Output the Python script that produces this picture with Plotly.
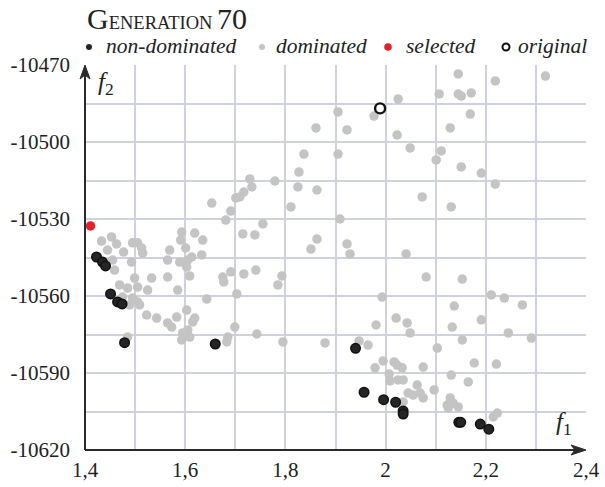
import plotly.graph_objects as go

# ---------------- data ----------------
dom_f1 = [2.145, 2.219, 2.319, 2.107, 2.145, 2.151, 2.171, 2.025, 1.905, 1.977, 2.169, 1.861, 1.923, 2.129,
          2.023, 2.049, 1.837, 1.905, 2.111, 2.101, 2.151, 1.827, 2.191, 2.219, 1.729, 1.779, 1.733, 1.825,
          1.863, 1.717, 1.709, 2.073, 1.811, 2.131, 1.909, 1.755, 1.715, 1.739, 1.863, 1.851, 1.923, 1.929,
          2.041, 2.081, 2.153,
          1.653, 1.701, 1.691, 1.681, 1.593, 1.619, 1.635, 1.591, 1.433, 1.453, 1.463, 1.445, 1.477, 1.495,
          1.505, 1.513, 1.515, 1.493, 1.455, 1.459, 1.601, 1.569, 1.565, 1.589, 1.605, 1.613, 1.633, 1.603,
          1.609, 1.565, 1.499, 1.533, 1.525, 1.505, 1.469, 1.485, 1.475, 1.495, 1.505, 1.509, 1.489, 1.585,
          1.675, 1.691, 1.717, 1.741, 1.793, 1.677, 1.785, 1.643, 1.703, 1.603, 1.619, 1.615, 1.583, 1.565,
          1.573, 1.543, 1.523, 1.605, 1.595, 1.593, 1.609, 1.699, 1.685, 1.683, 1.485, 1.743, 1.795,
          1.993, 2.211, 2.237, 2.273, 2.137, 2.021, 2.043, 2.049, 1.981, 2.191, 2.133, 2.245, 2.291, 2.153,
          1.879, 1.947, 1.965, 2.103, 1.995, 2.017, 2.023, 2.033, 1.979, 2.075, 2.177, 2.221, 2.131, 2.007,
          2.009, 2.025, 2.035, 2.063, 2.165, 2.097, 2.045, 2.055, 2.069, 2.075, 2.129, 2.123, 2.135, 2.145,
          2.125, 2.035, 2.223, 2.215]
dom_f2 = [-10473.5, -10476.2, -10474.3, -10481.3, -10481.3, -10482.1, -10480.9, -10483.2, -10488.3, -10489.9,
          -10489.1, -10494.5, -10495.3, -10494.5, -10497.3, -10502.3, -10504.7, -10504.7, -10503.5, -10507.0,
          -10509.7, -10511.7, -10512.1, -10516.4, -10514.4, -10515.2, -10517.5, -10517.5, -10518.7, -10519.5,
          -10521.4, -10521.4, -10525.3, -10525.3, -10530.0, -10531.9, -10535.8, -10536.2, -10537.8, -10541.7,
          -10539.7, -10543.6, -10543.6, -10552.6, -10553.4,
          -10523.8, -10521.8, -10526.9, -10530.4, -10535.1, -10535.5, -10538.2, -10538.2, -10538.6, -10537.0,
          -10539.7, -10542.1, -10542.9, -10539.3, -10539.3, -10541.3, -10543.2, -10546.8, -10546.0, -10549.9,
          -10541.3, -10542.1, -10546.0, -10546.8, -10546.0, -10544.8, -10544.0, -10548.7, -10552.2, -10552.6,
          -10553.0, -10553.0, -10557.7, -10556.5, -10555.7, -10556.9, -10560.4, -10560.8, -10562.3, -10563.5,
          -10563.5, -10557.7, -10552.6, -10550.6, -10551.4, -10549.9, -10552.2, -10554.5, -10555.7, -10561.2,
          -10559.2, -10565.5, -10568.6, -10570.1, -10568.2, -10570.5, -10572.1, -10568.6, -10567.4, -10573.2,
          -10574.4, -10577.1, -10576.0, -10572.1, -10576.0, -10577.9, -10576.0, -10574.8, -10577.9,
          -10560.4, -10559.6, -10560.8, -10563.5, -10563.9, -10568.6, -10570.5, -10574.4, -10571.3, -10569.3,
          -10572.1, -10574.4, -10576.4, -10577.1, -10578.3, -10577.5, -10579.1, -10580.3, -10585.3, -10585.7,
          -10586.9, -10588.0, -10588.0, -10587.7, -10586.1, -10586.5, -10590.8, -10590.4, -10593.1, -10592.7,
          -10592.7, -10594.7, -10593.5, -10596.6, -10597.8, -10598.6, -10597.8, -10599.7, -10599.7, -10602.5,
          -10601.7, -10603.2, -10603.6, -10601.3, -10605.6, -10607.1]

nondom_f1 = [1.423, 1.435, 1.441, 1.451, 1.465, 1.474, 1.479, 1.660, 1.940, 1.957, 1.996, 2.020, 2.035,
             2.035, 2.146, 2.150, 2.189, 2.206]
nondom_f2 = [-10544.8, -10546.8, -10548.3, -10559.2, -10562.3, -10563.1, -10578.2, -10578.7, -10580.4,
             -10597.5, -10600.4, -10601.4, -10604.8, -10606.0, -10609.2, -10609.2, -10609.9, -10611.9]

selected_f1 = [1.411]
selected_f2 = [-10532.7]

original_f1 = [1.989]
original_f2 = [-10486.9]

x_range = [1.4, 2.4]
y_range = [-10620, -10470]
x_tickvals = [1.4, 1.6, 1.8, 2.0, 2.2, 2.4]
x_ticktext = ["1,4", "1,6", "1,8", "2", "2,2", "2,4"]
x_grid_step = 0.1
y_tickvals = [-10620, -10590, -10560, -10530, -10500, -10470]
y_ticktext = ["-10620", "-10590", "-10560", "-10530", "-10500", "-10470"]
y_grid_step = 15

title_text = "<span style='font-size:30px'>G</span>ENERATION <span style='font-size:30px'>70</span>"
legend_names = ["non-dominated", "dominated", "selected", "original"]

# ---------------- styling ----------------
SERIF = "Liberation Serif"
GRID = "#cfd1dc"
AX = "#2b2b2b"
C_DOM = "#c4c4c4"
C_ND = "#252525"
C_SEL = "#e3232c"

L, R, T, B = 85, 19, 65, 37
W, H = 605, 487
PW, PH = W - L - R, H - T - B


def px2paper_x(px):
    return (px - L) / PW


def px2paper_y(py):
    return (H - B - py) / PH


fig = go.Figure()
fig.add_trace(go.Scatter(x=dom_f1, y=dom_f2, mode="markers", name=legend_names[1],
                         marker=dict(size=9.5, color=C_DOM, line=dict(width=0)), cliponaxis=False))
fig.add_trace(go.Scatter(x=nondom_f1, y=nondom_f2, mode="markers", name=legend_names[0],
                         marker=dict(size=9.5, color=C_ND, line=dict(width=1.5, color="#111111")),
                         cliponaxis=False))
fig.add_trace(go.Scatter(x=selected_f1, y=selected_f2, mode="markers", name=legend_names[2],
                         marker=dict(size=9.5, color=C_SEL, line=dict(width=0)), cliponaxis=False))
fig.add_trace(go.Scatter(x=original_f1, y=original_f2, mode="markers", name=legend_names[3],
                         marker=dict(size=10, color="white", line=dict(width=2.4, color="#111111")),
                         cliponaxis=False))

annotations = []
# axis names
annotations.append(dict(x=px2paper_x(96), y=px2paper_y(83), xref="paper", yref="paper", xanchor="left",
                        yanchor="middle", showarrow=False, text="<i>f</i><sub>2</sub>",
                        font=dict(family=SERIF, size=25, color="#222")))
annotations.append(dict(x=px2paper_x(554), y=px2paper_y(423), xref="paper", yref="paper", xanchor="left",
                        yanchor="middle", showarrow=False, text="<i>f</i><sub>1</sub>",
                        font=dict(family=SERIF, size=25, color="#222")))
# title
annotations.append(dict(x=px2paper_x(85), y=px2paper_y(19), xref="paper", yref="paper", xanchor="left",
                        yanchor="middle", showarrow=False, text=title_text,
                        font=dict(family=SERIF, size=18.5, color="#222")))
# legend row
text_x = [104, 274, 404, 516]
for name, tx in zip(legend_names, text_x):
    annotations.append(dict(x=px2paper_x(tx), y=px2paper_y(46), xref="paper", yref="paper",
                            xanchor="left", yanchor="middle", showarrow=False, text="<i>" + name + "</i>",
                            font=dict(family=SERIF, size=21.5, color="#222")))

shapes = []
# axis lines with arrowheads (in paper coords; heads sized in pixels)
shapes.append(dict(type="line", xref="paper", yref="paper", x0=0, x1=0, y0=0, y1=0.985,
                   line=dict(color=AX, width=2)))
shapes.append(dict(type="line", xref="paper", yref="paper", x0=0, x1=0.985, y0=0, y1=0,
                   line=dict(color=AX, width=2)))
shapes.append(dict(type="path", xref="paper", yref="paper", xsizemode="pixel", ysizemode="pixel",
                   xanchor=0, yanchor=1, path="M 0 0 L -5 -14 L 0 -10 L 5 -14 Z",
                   fillcolor=AX, line=dict(color=AX, width=1)))
shapes.append(dict(type="path", xref="paper", yref="paper", xsizemode="pixel", ysizemode="pixel",
                   xanchor=1, yanchor=0, path="M 0 0 L -15 5 L -11 0 L -15 -5 Z",
                   fillcolor=AX, line=dict(color=AX, width=1)))

dot_x = [89, 262, 388, 506]
dot_style = [(C_ND, C_ND, 0, 3), (C_DOM, C_DOM, 0, 3), (C_SEL, C_SEL, 0, 3.8), ("white", "#111", 2, 3.5)]
for dx, (fc, lc, lw, r) in zip(dot_x, dot_style):
    shapes.append(dict(type="circle", xref="paper", yref="paper", xsizemode="pixel", ysizemode="pixel",
                       xanchor=px2paper_x(dx), yanchor=px2paper_y(47), x0=-r, x1=r, y0=-r, y1=r,
                       fillcolor=fc, line=dict(color=lc, width=lw)))

fig.update_layout(
    width=W, height=H, margin=dict(l=L, r=R, t=T, b=B),
    paper_bgcolor="white", plot_bgcolor="white", showlegend=False,
    font=dict(family=SERIF, size=21, color="#222"),
    annotations=annotations, shapes=shapes,
    xaxis=dict(range=x_range, tickmode="array", tickvals=x_tickvals, ticktext=x_ticktext,
               showgrid=True, gridcolor=GRID, gridwidth=1.5, zeroline=False, showline=False,
               minor=dict(tick0=x_range[0], dtick=x_grid_step, showgrid=True, gridcolor=GRID, gridwidth=1.5),
               ticks="", ticklabelstandoff=5, automargin=False,
               tickfont=dict(family=SERIF, size=21, color="#222")),
    yaxis=dict(range=y_range, tickmode="array", tickvals=y_tickvals, ticktext=y_ticktext,
               showgrid=True, gridcolor=GRID, gridwidth=1.5, zeroline=False, showline=False,
               minor=dict(tick0=y_range[0], dtick=y_grid_step, showgrid=True, gridcolor=GRID, gridwidth=1.5),
               ticks="", ticklabelstandoff=14, automargin=False,
               tickfont=dict(family=SERIF, size=21, color="#222")),
)

fig.write_html("out.html")
